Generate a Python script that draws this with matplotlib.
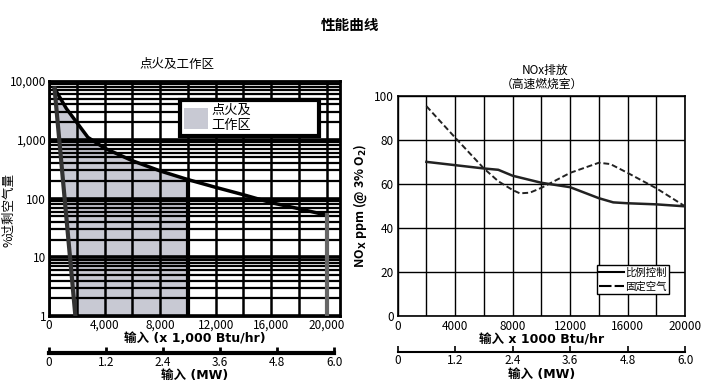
import matplotlib.pyplot as plt
from matplotlib.patches import Patch
from matplotlib.lines import Line2D
from matplotlib.ticker import MultipleLocator, FixedLocator, FixedFormatter, LogLocator, NullFormatter

plt.rcParams['font.family'] = ['Noto Sans CJK SC', 'DejaVu Sans']
plt.rcParams['axes.unicode_minus'] = False

# ---- data: firing / operating range (log scale) ----
curve_x = [400, 1250, 2800, 4000, 6000, 8000, 10000, 12000, 14000, 16000, 18000, 20000]
curve_y = [7500, 3400, 1100, 720, 440, 295, 210, 155, 116, 85, 67, 52]
lean_x = [400, 1900]
lean_y = [7500, 1]
region_max_x = 10000
max_input = 20000

left_xticks = [0, 4000, 8000, 12000, 16000, 20000]
left_xlabels = ['0', '4,000', '8,000', '12,000', '16,000', '20,000']
left_yticks = [1, 10, 100, 1000, 10000]
left_ylabels = ['1', '10', '100', '1,000', '10,000']

# ---- data: NOx emission ----
solid_x = [2000, 4000, 6000, 7000, 8000, 10000, 12000, 14000, 15000, 16000, 18000, 20000]
solid_y = [70, 68.5, 67, 66.4, 63.7, 60.5, 58.5, 53.5, 51.6, 51.2, 50.7, 49.8]
dash_x = [2000, 4000, 6000, 7000, 8000, 8500, 9200, 10000, 12000, 14000, 14800, 16000, 18000, 20000]
dash_y = [95.3, 81, 67, 61.2, 57.2, 55.7, 56, 58.2, 65, 69.6, 69, 65, 58, 49.8]

right_xticks = [0, 4000, 8000, 12000, 16000, 20000]
right_yticks = [0, 20, 40, 60, 80, 100]

mw_ticks = [0, 1.2, 2.4, 3.6, 4.8, 6.0]
mw_labels = ['0', '1.2', '2.4', '3.6', '4.8', '6.0']

fig = plt.figure(figsize=(7.01, 3.89), dpi=100)
fig.text(0.5, 0.935, '性能曲线', ha='center', va='center', fontsize=10.5, fontweight='bold')

# ================= left chart =================
ax1 = fig.add_axes([0.0699, 0.1877, 0.415, 0.604])
ax1.set_yscale('log')
ax1.set_xlim(0, 20950)
ax1.set_ylim(1, 10000)

poly_x = [x for x in curve_x if x <= region_max_x] + [region_max_x, lean_x[1]]
poly_y = [y for x, y in zip(curve_x, curve_y) if x <= region_max_x] + [lean_y[1], lean_y[1]]
ax1.fill(poly_x, poly_y, color='#c8c9d3', zorder=1, lw=0)

ax1.xaxis.set_major_locator(FixedLocator(left_xticks))
ax1.xaxis.set_major_formatter(FixedFormatter(left_xlabels))
ax1.xaxis.set_minor_locator(MultipleLocator(2000))
ax1.yaxis.set_major_locator(FixedLocator(left_yticks))
ax1.yaxis.set_major_formatter(FixedFormatter(left_ylabels))
ax1.yaxis.set_minor_locator(LogLocator(base=10, subs=range(2, 10)))
ax1.yaxis.set_minor_formatter(NullFormatter())
ax1.set_axisbelow(False)
ax1.grid(True, axis='y', which='major', color='black', lw=2.6)
ax1.grid(True, axis='y', which='minor', color='black', lw=1.6)
ax1.grid(True, axis='x', which='both', color='black', lw=1.8)
ax1.tick_params(which='both', length=0, labelsize=8.5, pad=2)
for s in ax1.spines.values():
    s.set_linewidth(2)

ax1.plot(curve_x, curve_y, color='black', lw=2.5, zorder=4)
ax1.plot(lean_x, lean_y, color='#333333', lw=3, zorder=4)
ax1.plot([region_max_x, region_max_x], [1, curve_y[curve_x.index(region_max_x)]], color='black', lw=3, zorder=4)
ax1.plot([max_input, max_input], [1, curve_y[-1]], color='#666666', lw=3, zorder=4)

leg1 = ax1.legend(handles=[Patch(facecolor='#c8c9d3', edgecolor='none')], labels=['点火及\n工作区'],
                  loc='upper left', bbox_to_anchor=(0.45, 0.82, 0.478, 0.1), mode='expand',
                  fontsize=9.5, handlelength=1.8, handleheight=2.0, handletextpad=0.3, labelspacing=0,
                  borderpad=0.3, borderaxespad=0, fancybox=False, framealpha=1, edgecolor='black')
leg1.get_frame().set_linewidth(3)
leg1.set_zorder(6)

ax1.set_xlabel('输入 (x 1,000 Btu/hr)', fontsize=9, fontweight='bold', labelpad=0,
               family=['DejaVu Sans', 'Noto Sans CJK SC'])
fig.text(0.2525, 0.833, '点火及工作区', ha='center', va='center', fontsize=9)
fig.text(0.012, 0.46, '%过剩空气量', rotation=90, ha='center', va='center', fontsize=9)

# MW scale under left chart
mw1 = fig.add_axes([0.0699, 0.0917, 0.415, 0.01])
mw1.set_xlim(0, 6.12)
mw1.patch.set_visible(False)
for k in ['top', 'left', 'right']:
    mw1.spines[k].set_visible(False)
mw1.spines['bottom'].set_linewidth(3)
mw1.spines['bottom'].set_bounds(0, 6)
mw1.set_yticks([])
mw1.set_xticks(mw_ticks)
mw1.set_xticklabels(mw_labels)
mw1.tick_params(axis='x', direction='in', length=4, width=2, labelsize=8.5, pad=2)
mw1.set_xlabel('输入 (MW)', fontsize=9, fontweight='bold', labelpad=0,
               family=['DejaVu Sans', 'Noto Sans CJK SC'])

# ================= right chart =================
ax2 = fig.add_axes([0.5673, 0.1877, 0.41, 0.566])
ax2.set_xlim(0, 20000)
ax2.set_ylim(0, 100)
ax2.set_xticks(right_xticks)
ax2.xaxis.set_minor_locator(MultipleLocator(2000))
ax2.set_yticks(right_yticks)
ax2.grid(True, axis='x', which='both', color='black', lw=1)
ax2.grid(True, axis='y', which='major', color='black', lw=1)
ax2.tick_params(which='both', length=0, labelsize=8.5, pad=3)
for s in ax2.spines.values():
    s.set_linewidth(1.2)

ax2.plot(solid_x, solid_y, color='#222222', lw=1.8, label='比例控制', zorder=4)
ax2.plot(dash_x, dash_y, color='#222222', lw=1.4, ls=(0, (3, 1.5)), label='固定空气', zorder=4)

handles = [Line2D([], [], color='black', lw=1.5), Line2D([], [], color='black', lw=1.5, ls=(0, (6, 1.5)))]
leg2 = ax2.legend(handles, ['比例控制', '固定空气'], loc='lower right', bbox_to_anchor=(0.945, 0.1),
                  fontsize=7.5, handlelength=2.4, handletextpad=0.1, labelspacing=0.3,
                  borderpad=0.25, borderaxespad=0, fancybox=False, framealpha=1, edgecolor='black')
leg2.get_frame().set_linewidth(1)

ax2.set_xlabel('输入 x 1000 Btu/hr', fontsize=9, fontweight='bold', labelpad=0,
               family=['DejaVu Sans', 'Noto Sans CJK SC'])
ax2.set_ylabel(r'NO$_\mathbf{X}$ ppm (@ 3% O$_\mathbf{2}$)', fontsize=9, fontweight='bold', labelpad=3)
fig.text(0.7775, 0.818, 'NOx排放', ha='center', va='center', fontsize=8.5)
fig.text(0.773, 0.782, '（高速燃烧室）', ha='center', va='center', fontsize=8.5)

mw2 = fig.add_axes([0.5673, 0.096, 0.41, 0.01])
mw2.set_xlim(0, 6)
mw2.patch.set_visible(False)
for k in ['top', 'left', 'right']:
    mw2.spines[k].set_visible(False)
mw2.spines['bottom'].set_linewidth(1.5)
mw2.set_yticks([])
mw2.set_xticks(mw_ticks)
mw2.set_xticklabels(mw_labels)
mw2.tick_params(axis='x', direction='in', length=4, width=1.2, labelsize=8.5, pad=2)
mw2.set_xlabel('输入 (MW)', fontsize=9, fontweight='bold', labelpad=0,
               family=['DejaVu Sans', 'Noto Sans CJK SC'])

plt.savefig('out.png', dpi=100)
